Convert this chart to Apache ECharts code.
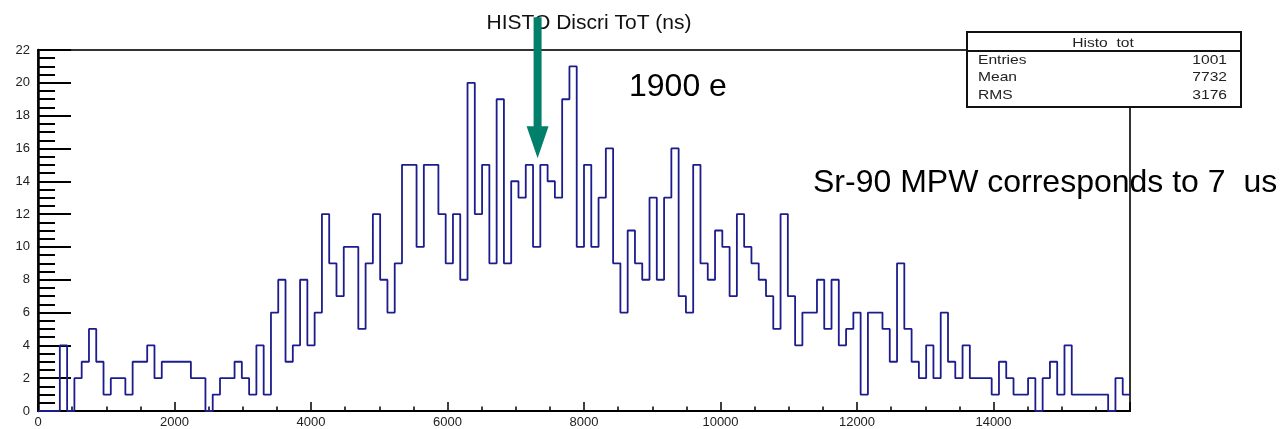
<!DOCTYPE html>
<html><head><meta charset="utf-8">
<script src="https://cdn.jsdelivr.net/npm/echarts@6/dist/echarts.min.js"></script>
<style>html,body{margin:0;padding:0;background:#fff}#c{width:1283px;height:429px}</style>
</head><body><div id="c"></div>
<script>
// Histogram definition (ROOT-style): 150 bins from 0 to 16000
const xMin = 0, xMax = 16000, nBins = 150;
const counts = [
  0,0,0,4,0,2,3,5,3,1,
  2,2,1,3,3,4,2,3,3,3,
  3,2,2,0,1,2,2,3,2,1,
  4,1,6,8,3,4,8,4,6,12,
  9,7,10,10,5,9,12,8,6,9,
  15,15,10,15,15,12,9,12,8,20,
  12,15,9,19,9,14,13,15,10,15,
  14,13,19,21,10,15,10,13,16,9,
  6,11,9,8,13,8,13,16,7,6,
  15,9,8,11,10,7,12,10,9,8,
  7,5,12,7,4,6,6,8,5,8,
  4,5,6,1,6,6,5,3,9,5,
  3,2,4,2,6,3,2,4,2,2,
  2,1,3,2,1,1,2,0,2,3,
  1,4,1,1,1,1,1,0,2,1
];
const yMin = 0, yMax = 22;
const titleText = 'HISTO Discri ToT (ns)';
const statsTitle = 'Histo  tot';
const statsLabels = ['Entries', 'Mean', 'RMS'];
const statsValues = ['1001', '7732', '3176'];
const noteTop = '1900 e';
const noteRight = 'Sr-90 MPW corresponds to 7  us';
const arrowX = 7320, arrowTopY = 24.0, arrowTipY = 15.4;

const binW = (xMax - xMin) / nBins;
const histData = counts.map((v, i) => [xMin + i * binW, v]);
histData.push([xMax, counts[counts.length - 1]]);

const chart = echarts.init(document.getElementById('c'), null, {renderer: 'canvas'});
const FONT = 'Liberation Sans, Arial, Helvetica, sans-serif';

chart.setOption({
  animation: false,
  backgroundColor: '#fff',
  title: {
    text: titleText, left: 584, top: 8, textAlign: 'center',
    textStyle: {fontFamily: FONT, fontSize: 21, fontWeight: 'normal', color: '#111'}
  },
  grid: {left: 38, right: 153, top: 50, bottom: 17, show: true, borderColor: '#333', borderWidth: 2, containLabel: false},
  xAxis: {
    type: 'value', min: xMin, max: xMax, interval: 2000,
    axisLine: {show: true, onZero: false, lineStyle: {color: '#000', width: 2}},
    axisTick: {show: true, inside: true, length: 9, lineStyle: {color: '#000', width: 1.5}},
    minorTick: {show: true, splitNumber: 4, length: 4.5, lineStyle: {color: '#000', width: 1.5}},
    splitLine: {show: false},
    axisLabel: {showMaxLabel: false, color: '#222', fontSize: 13, fontFamily: FONT, margin: 5,
                formatter: v => String(v)}
  },
  yAxis: {
    type: 'value', min: yMin, max: yMax, interval: 2,
    axisLine: {show: true, onZero: false, lineStyle: {color: '#000', width: 2.5}},
    axisTick: {show: true, inside: true, length: 33, lineStyle: {color: '#000', width: 2}},
    minorTick: {show: true, splitNumber: 4, length: 17, lineStyle: {color: '#000', width: 2}},
    splitLine: {show: false},
    axisLabel: {color: '#222', fontSize: 13, fontFamily: FONT, margin: 8, formatter: v => String(v)}
  },
  series: [{
    type: 'line', step: 'end', data: histData, symbol: 'none',
    lineStyle: {color: '#1c1c8c', width: 1.8}, z: 3
  }]
});

const pTop = chart.convertToPixel({gridIndex: 0}, [arrowX, arrowTopY]);
const pTip = chart.convertToPixel({gridIndex: 0}, [arrowX, arrowTipY]);
const ax = pTop[0], headH = 32, headW = 22, shaftW = 8;
const green = '#00806a';

const statsRows = statsLabels.map((lab, i) => ([
  {type: 'text', x: 978, y: 60 + i * 17.8, scaleX: 1.2, z: 101,
   style: {text: lab, fill: '#222', font: '13px ' + FONT, align: 'left', verticalAlign: 'middle'}},
  {type: 'text', x: 1227, y: 60 + i * 17.8, scaleX: 1.2, z: 101,
   style: {text: statsValues[i], fill: '#222', font: '13px ' + FONT, align: 'right', verticalAlign: 'middle'}}
])).flat();

chart.setOption({
  graphic: [
    {type: 'rect', z: 100, shape: {x: 967, y: 32, width: 274, height: 75},
     style: {fill: '#fff', stroke: '#111', lineWidth: 2}},
    {type: 'line', z: 100, shape: {x1: 967, y1: 51, x2: 1241, y2: 51},
     style: {stroke: '#111', lineWidth: 2}},
    {type: 'text', x: 1103, y: 43, scaleX: 1.2, z: 101,
     style: {text: statsTitle, fill: '#222', font: '13px ' + FONT, align: 'center', verticalAlign: 'middle'}},
    ...statsRows,
    {type: 'text', x: 629, y: 87, z: 101,
     style: {text: noteTop, fill: '#000', font: '32px ' + FONT, align: 'left', verticalAlign: 'middle'}},
    {type: 'text', x: 813, y: 183, z: 101,
     style: {text: noteRight, fill: '#000', font: '32px ' + FONT, align: 'left', verticalAlign: 'middle'}},
    {type: 'rect', z: 110, shape: {x: ax - shaftW / 2, y: pTop[1], width: shaftW, height: pTip[1] - headH - pTop[1] + 1},
     style: {fill: green}},
    {type: 'polygon', z: 110, shape: {points: [[ax - headW / 2, pTip[1] - headH], [ax + headW / 2, pTip[1] - headH], [ax, pTip[1]]]},
     style: {fill: green}}
  ]
});
</script>
</body></html>
